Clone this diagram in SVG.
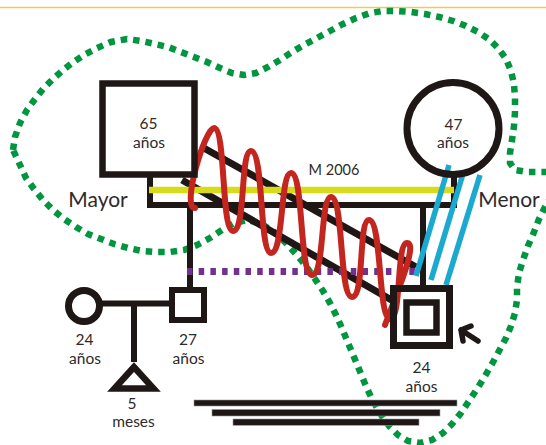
<svg xmlns="http://www.w3.org/2000/svg" width="546" height="445" viewBox="0 0 546 445">
<style>
.k{fill:none;stroke:#1e1715;}
.t{font-family:Lato,"Liberation Sans",sans-serif;fill:#2e2a29;text-anchor:middle;}
.s{font-size:15.5px;}
.b{font-size:21px;}
.green{fill:none;stroke:#00953f;stroke-width:6.5;stroke-dasharray:6.5 6;}
.bar{fill:#1e1715;stroke:#9a9696;stroke-width:0.6;}
</style>
<rect width="546" height="445" fill="#ffffff"/>
<line x1="0" y1="7.5" x2="546" y2="7.5" stroke="#f6c94b" stroke-width="1.6"/>

<g id="emotional-boundary">
<path class="green" d="M13,150 L15,137 L20,123 L27,110 L35,99 L43,89 L52,80 L62,71 L72,63 L84,55 L97,48 L111,42 L127,39 L141,41 L155,44 L168,47 L181,52 L194,57 L207,62 L220,68 L232,73 L244,75 L256,73 L268,67 L280,60 L292,52 L304,45 L317,38 L330,31 L343,24 L356,18 L370,13 L383,11 L397,11 L411,12 L425,14 L439,17 L453,21 L466,26 L478,32 L490,40 L499,49 L506,59 L511,71 L514,84 L515,98 L515,112 L514,126 L512,140 L510,153 L510,163 L515,170 L527,172 L540,172 L552,172 L558,180 L552,195 L545,207 L539,219 L534,232 L528,246 L523,260 L519,273 L517,287 L517,300 L515,313 L511,326 L506,338 L499,351 L492,364 L485,376 L477,389 L469,401 L461,413 L452,424 L443,433 L432,440 L420,443 L408,441 L398,435 L390,427 L383,418 L377,408 L371,397 L366,386 L361,374 L356,362 L351,350 L346,338 L341,326 L336,315 L330,303 L323,291 L315,279 L306,266 L296,254 L285,242 L273,231 L260,223 L247,220 L234,223 L222,230 L210,238 L197,245 L184,250 L170,252 L156,252 L142,251 L128,248 L114,244 L101,239 L88,234 L76,227 L64,219 L53,210 L43,200 L34,189 L26,178 L20,165 Z"/>
</g>

<g id="connectors">
<path class="k" stroke-width="6" d="M150,175 V205 H454 V175"/>
<line class="k" stroke-width="6" x1="190" y1="205" x2="190" y2="288"/>
<line class="k" stroke-width="6" x1="423" y1="205" x2="423" y2="286"/>
<line class="k" stroke-width="6" x1="101" y1="303.5" x2="170" y2="303.5"/>
<line class="k" stroke-width="6" x1="134" y1="303.5" x2="134" y2="362"/>
<line class="k" stroke-width="7" x1="202" y1="147" x2="416" y2="267"/>
<line class="k" stroke-width="7" x1="182" y1="180" x2="395" y2="302"/>
<line x1="149" y1="190" x2="454" y2="190" stroke="#d6dc1c" stroke-width="6.5"/>
<line x1="187" y1="271.5" x2="417" y2="271.5" stroke="#70318f" stroke-width="7" stroke-dasharray="5.5 6.2"/>
<path fill="none" stroke="#c3261f" stroke-width="6" stroke-linecap="round" d="M195,208 C181,208 205,128 214,128 C226,128 221,231 233,231 C246,231 240,151 251,151 C264,151 259,253 271,253 C284,253 280,173 291,173 C304,173 299,275 312,275 C325,275 320,197 331,197 C344,197 339,297 352,297 C365,297 358,220 369,220 C382,220 378,319 390,319 C402,319 396,243 407,243 C419,243 394,300 385,325"/>
<g stroke="#1ba9d0" stroke-width="5.5">
<line x1="449" y1="165" x2="416" y2="276"/>
<line x1="464" y1="170.5" x2="431" y2="280"/>
<line x1="480" y1="175" x2="446" y2="285"/>
</g>
<path class="k" stroke-width="5.5" stroke-linecap="round" stroke-linejoin="round" d="M471,326 L461,330 L463,341 M461,330 L478,341"/>
</g>

<g id="mayor">
<rect class="k" stroke-width="6.5" x="102.5" y="83.5" width="92" height="91"/>
<text class="t s" x="148.5" y="129">65</text>
<text class="t s" x="149" y="148">años</text>
<text class="t b" x="98" y="207">Mayor</text>
</g>

<g id="menor">
<circle class="k" stroke-width="7" cx="453" cy="128.5" r="46"/>
<text class="t s" x="453.5" y="130">47</text>
<text class="t s" x="453" y="148">años</text>
<text class="t b" x="509" y="207">Menor</text>
</g>

<g id="marriage-label">
<text class="t" font-size="14.5" x="334" y="175">M 2006</text>
</g>

<g id="index-person">
<rect class="k" stroke-width="7" x="393.5" y="288.5" width="56" height="57"/>
<rect class="k" stroke-width="6.5" x="406.5" y="302.5" width="30" height="30"/>
<text class="t s" x="421.5" y="373">24</text>
<text class="t s" x="421.5" y="392">años</text>
</g>

<g id="partner">
<circle class="k" stroke-width="7" cx="84" cy="306" r="15.5"/>
<text class="t s" x="84.5" y="345">24</text>
<text class="t s" x="85" y="364">años</text>
</g>

<g id="son">
<rect class="k" stroke-width="6" x="172" y="290" width="32" height="30"/>
<text class="t s" x="188" y="345">27</text>
<text class="t s" x="188.5" y="364">años</text>
</g>

<g id="baby">
<polygon class="k" stroke-width="6.5" stroke-linejoin="miter" points="134,367 114.5,388.5 153.5,388.5"/>
<text class="t s" x="132" y="409">5</text>
<text class="t s" x="133.5" y="427">meses</text>
</g>

<g id="bars">
<rect class="bar" x="194" y="400" width="263" height="6"/>
<rect class="bar" x="212" y="409.5" width="228" height="6.5"/>
<rect class="bar" x="233" y="419" width="186" height="6.3"/>
</g>
</svg>
